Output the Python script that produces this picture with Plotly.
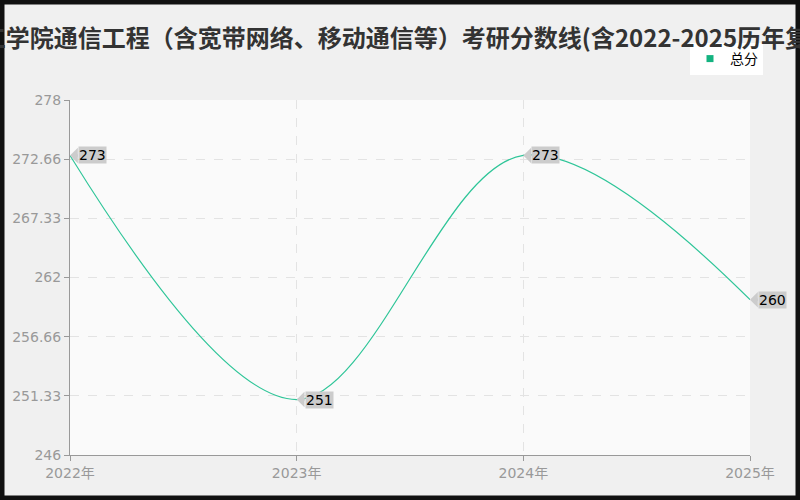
import plotly.graph_objects as go

# data
years = ["2022年", "2023年", "2024年", "2025年"]
scores = [273, 251, 273, 260]
y_ticks = [246, 251.33, 256.66, 262, 267.33, 272.66, 278]
y_tick_text = ["246", "251.33", "256.66", "262", "267.33", "272.66", "278"]
title_text = "理工学院通信工程（含宽带网络、移动通信等）考研分数线(含2022-2025历年复试)"

line_color = "#2ec598"
grey_text = "#999999"
tick_font = "DejaVu Sans, Noto Sans CJK SC"

fig = go.Figure()

fig.add_trace(go.Scatter(
    x=years, y=scores, mode="lines",
    line=dict(color=line_color, width=1.2, shape="spline", smoothing=1),
    showlegend=False, hoverinfo="x+y",
))
# legend entry with a square swatch
fig.add_trace(go.Scatter(
    x=[None], y=[None], mode="markers", name="总分",
    marker=dict(symbol="square", size=7, color="#14b380"),
))

for x, v in zip(years, scores):
    fig.add_annotation(
        x=x, y=v, text=str(v), showarrow=True,
        ax=8, ay=0, xanchor="left", standoff=0,
        arrowhead=1, arrowsize=1, arrowwidth=2.6, arrowcolor="#cccccc",
        bgcolor="#cccccc", borderpad=0,
        font=dict(size=14, color="#000000", family=tick_font),
    )

# plot margins in px, used to place the frame around the whole page
ml, mr, mt, mb = 70, 50, 100, 45
pw, ph = 800 - ml - mr, 500 - mt - mb
fig.add_shape(
    type="rect", xref="paper", yref="paper",
    x0=-ml / pw, x1=(pw + mr) / pw, y0=-mb / ph, y1=(ph + mt) / ph,
    line=dict(color="#111111", width=9), layer="above",
)

fig.update_layout(
    width=800, height=500,
    margin=dict(l=ml, r=mr, t=mt, b=mb),
    paper_bgcolor="#f0f0f0", plot_bgcolor="#fafafa",
    font=dict(family="Noto Sans CJK SC", color=grey_text, size=13),
    title=dict(
        text="<b>" + title_text + "</b>", x=0.5, xanchor="center",
        y=0.922, yanchor="middle", xref="container", yref="container",
        font=dict(size=24, color="#333333", family="Noto Sans CJK SC"),
    ),
    legend=dict(
        x=(690 - ml) / pw, xanchor="left", y=(500 - mb - 43) / ph, yanchor="top",
        bgcolor="#ffffff", font=dict(size=14, color="#000000"),
        itemwidth=30,
    ),
    xaxis=dict(
        type="category", range=[0, len(years) - 1],
        showline=True, linecolor="#999999", linewidth=1,
        ticks="outside", ticklen=5, tickcolor="#999999",
        showgrid=True, gridcolor="#e3e3e3", griddash="dash",
        tickfont=dict(size=14, color=grey_text, family=tick_font), zeroline=False,
    ),
    yaxis=dict(
        range=[246, 278], tickvals=y_ticks, ticktext=y_tick_text,
        showline=True, linecolor="#999999", linewidth=1,
        ticks="outside", ticklen=5, tickcolor="#999999",
        showgrid=True, gridcolor="#e3e3e3", griddash="dash",
        tickfont=dict(size=14, color=grey_text, family=tick_font), zeroline=False,
    ),
)

fig.write_html(
    "out.html",
    config={"displayModeBar": False},
    post_script="document.body.style.margin='0';document.body.style.overflow='hidden';",
)
